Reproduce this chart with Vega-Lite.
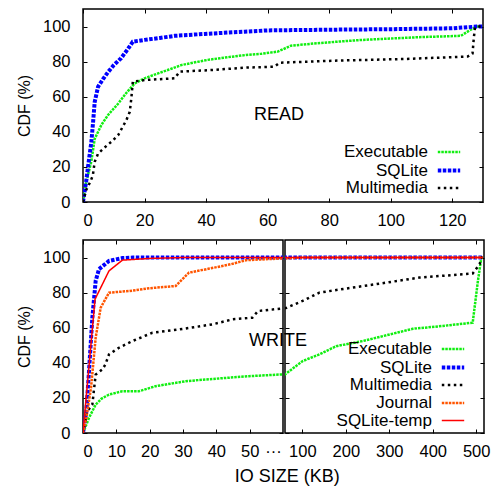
{
  "$schema": "https://vega.github.io/schema/vega-lite/v6.json",
  "padding": {"left": 15, "top": 7, "right": 5, "bottom": 3},
  "config": {
    "font": "Liberation Sans",
    "view": {"stroke": "black", "strokeWidth": 1.5},
    "axis": {"grid": false, "domain": false, "tickColor": "black", "tickSize": -4, "tickWidth": 1, "labelColor": "black", "labelFontSize": 16.5, "titleColor": "black", "titleFontWeight": "normal", "labelFont": "Liberation Sans", "titleFont": "Liberation Sans", "minExtent": 0},
    "axisX": {"labelPadding": 14, "minExtent": 0},
    "axisY": {"labelPadding": 17, "minExtent": 0},
    "legend": {"orient": "none", "title": null, "labelAlign": "right", "labelOffset": -31, "symbolType": "M-1.4,0H1.4", "symbolSize": 256, "labelFontSize": 17, "labelColor": "black", "padding": 0, "labelFont": "Liberation Sans", "symbolFillColor": "transparent"}
  },
  "datasets": {
    "read": [
      {"type": "Executable", "size": 0, "cdf": 0}, {"type": "Executable", "size": 1, "cdf": 11}, {"type": "Executable", "size": 2.7, "cdf": 23}, {"type": "Executable", "size": 3.8, "cdf": 36}, {"type": "Executable", "size": 6, "cdf": 44}, {"type": "Executable", "size": 8.1, "cdf": 49.5}, {"type": "Executable", "size": 11.4, "cdf": 56}, {"type": "Executable", "size": 14, "cdf": 62}, {"type": "Executable", "size": 16.8, "cdf": 67.6}, {"type": "Executable", "size": 20, "cdf": 70.5}, {"type": "Executable", "size": 24.4, "cdf": 73.3}, {"type": "Executable", "size": 28, "cdf": 75.5}, {"type": "Executable", "size": 31.9, "cdf": 78}, {"type": "Executable", "size": 36, "cdf": 79.5}, {"type": "Executable", "size": 40.6, "cdf": 81}, {"type": "Executable", "size": 46, "cdf": 82.3}, {"type": "Executable", "size": 53, "cdf": 83.8}, {"type": "Executable", "size": 58, "cdf": 84.5}, {"type": "Executable", "size": 63.3, "cdf": 85.7}, {"type": "Executable", "size": 67.6, "cdf": 89.1}, {"type": "Executable", "size": 75, "cdf": 90.3}, {"type": "Executable", "size": 82.8, "cdf": 91.4}, {"type": "Executable", "size": 90, "cdf": 92.3}, {"type": "Executable", "size": 99, "cdf": 93.1}, {"type": "Executable", "size": 110, "cdf": 94}, {"type": "Executable", "size": 122.8, "cdf": 94.7}, {"type": "Executable", "size": 125, "cdf": 97.1}, {"type": "Executable", "size": 127.2, "cdf": 99.4}, {"type": "Executable", "size": 128, "cdf": 100}, {"type": "Executable", "size": 130, "cdf": 100},
      {"type": "SQLite", "size": 0, "cdf": 0}, {"type": "SQLite", "size": 1, "cdf": 11.4}, {"type": "SQLite", "size": 2, "cdf": 25}, {"type": "SQLite", "size": 2.7, "cdf": 34}, {"type": "SQLite", "size": 3.3, "cdf": 46}, {"type": "SQLite", "size": 3.8, "cdf": 57}, {"type": "SQLite", "size": 4.9, "cdf": 65.7}, {"type": "SQLite", "size": 6.5, "cdf": 70}, {"type": "SQLite", "size": 8.1, "cdf": 74}, {"type": "SQLite", "size": 10, "cdf": 78}, {"type": "SQLite", "size": 12.4, "cdf": 82}, {"type": "SQLite", "size": 14.5, "cdf": 87}, {"type": "SQLite", "size": 16.2, "cdf": 91.4}, {"type": "SQLite", "size": 20, "cdf": 92.4}, {"type": "SQLite", "size": 25, "cdf": 93.5}, {"type": "SQLite", "size": 29.8, "cdf": 94.7}, {"type": "SQLite", "size": 39.5, "cdf": 95.8}, {"type": "SQLite", "size": 52.5, "cdf": 97.1}, {"type": "SQLite", "size": 60, "cdf": 97.8}, {"type": "SQLite", "size": 80, "cdf": 98.2}, {"type": "SQLite", "size": 100, "cdf": 98.5}, {"type": "SQLite", "size": 120, "cdf": 99}, {"type": "SQLite", "size": 128, "cdf": 100}, {"type": "SQLite", "size": 130, "cdf": 100},
      {"type": "Multimedia", "size": 0, "cdf": 0}, {"type": "Multimedia", "size": 1, "cdf": 6.7}, {"type": "Multimedia", "size": 2.5, "cdf": 12}, {"type": "Multimedia", "size": 3.2, "cdf": 15.2}, {"type": "Multimedia", "size": 3.8, "cdf": 22.9}, {"type": "Multimedia", "size": 4.9, "cdf": 27.6}, {"type": "Multimedia", "size": 7, "cdf": 31}, {"type": "Multimedia", "size": 9.2, "cdf": 34.3}, {"type": "Multimedia", "size": 11.4, "cdf": 38}, {"type": "Multimedia", "size": 14.1, "cdf": 46.7}, {"type": "Multimedia", "size": 15.2, "cdf": 51.4}, {"type": "Multimedia", "size": 15.7, "cdf": 59}, {"type": "Multimedia", "size": 16.2, "cdf": 68.6}, {"type": "Multimedia", "size": 20, "cdf": 69.5}, {"type": "Multimedia", "size": 29.8, "cdf": 70.5}, {"type": "Multimedia", "size": 31.4, "cdf": 74.3}, {"type": "Multimedia", "size": 41.7, "cdf": 75.2}, {"type": "Multimedia", "size": 53, "cdf": 76.6}, {"type": "Multimedia", "size": 62.2, "cdf": 77.1}, {"type": "Multimedia", "size": 63.9, "cdf": 79.4}, {"type": "Multimedia", "size": 82.8, "cdf": 80.6}, {"type": "Multimedia", "size": 104.4, "cdf": 81.5}, {"type": "Multimedia", "size": 125, "cdf": 82.9}, {"type": "Multimedia", "size": 126.6, "cdf": 84.6}, {"type": "Multimedia", "size": 127, "cdf": 93.3}, {"type": "Multimedia", "size": 127.4, "cdf": 99.4}, {"type": "Multimedia", "size": 128, "cdf": 100}, {"type": "Multimedia", "size": 130, "cdf": 100}
    ],
    "write": [
      {"type": "Executable", "size": 0, "cdf": 0}, {"type": "Executable", "size": 1.8, "cdf": 8.6}, {"type": "Executable", "size": 3.8, "cdf": 16.2}, {"type": "Executable", "size": 5.5, "cdf": 19.5}, {"type": "Executable", "size": 7.8, "cdf": 21.9}, {"type": "Executable", "size": 11.8, "cdf": 23.8}, {"type": "Executable", "size": 16.8, "cdf": 23.8}, {"type": "Executable", "size": 21.8, "cdf": 26.7}, {"type": "Executable", "size": 30.8, "cdf": 29.5}, {"type": "Executable", "size": 36.8, "cdf": 30.5}, {"type": "Executable", "size": 49.8, "cdf": 32.4}, {"type": "Executable", "size": 60, "cdf": 33.4}, {"type": "Executable", "size": 100.7, "cdf": 41}, {"type": "Executable", "size": 139, "cdf": 44.8}, {"type": "Executable", "size": 178, "cdf": 49.5}, {"type": "Executable", "size": 239, "cdf": 52.4}, {"type": "Executable", "size": 270, "cdf": 54.3}, {"type": "Executable", "size": 354, "cdf": 59.4}, {"type": "Executable", "size": 423, "cdf": 61}, {"type": "Executable", "size": 492, "cdf": 62.9}, {"type": "Executable", "size": 504, "cdf": 86.7}, {"type": "Executable", "size": 512, "cdf": 100}, {"type": "Executable", "size": 515, "cdf": 100},
      {"type": "SQLite", "size": 0, "cdf": 0}, {"type": "SQLite", "size": 1, "cdf": 12.4}, {"type": "SQLite", "size": 1.8, "cdf": 35.3}, {"type": "SQLite", "size": 2.8, "cdf": 65.7}, {"type": "SQLite", "size": 3.8, "cdf": 86.7}, {"type": "SQLite", "size": 4.8, "cdf": 93.4}, {"type": "SQLite", "size": 7.8, "cdf": 98.1}, {"type": "SQLite", "size": 11.8, "cdf": 99.7}, {"type": "SQLite", "size": 15, "cdf": 100}, {"type": "SQLite", "size": 515, "cdf": 100},
      {"type": "Multimedia", "size": 0, "cdf": 0}, {"type": "Multimedia", "size": 1.3, "cdf": 12.4}, {"type": "Multimedia", "size": 2.8, "cdf": 16.2}, {"type": "Multimedia", "size": 3.8, "cdf": 33.3}, {"type": "Multimedia", "size": 5.8, "cdf": 36.2}, {"type": "Multimedia", "size": 6.7, "cdf": 39}, {"type": "Multimedia", "size": 7.8, "cdf": 44.8}, {"type": "Multimedia", "size": 10.8, "cdf": 48.6}, {"type": "Multimedia", "size": 14.8, "cdf": 52.4}, {"type": "Multimedia", "size": 20.8, "cdf": 57.1}, {"type": "Multimedia", "size": 28.8, "cdf": 59}, {"type": "Multimedia", "size": 38.8, "cdf": 61.9}, {"type": "Multimedia", "size": 44.9, "cdf": 64.8}, {"type": "Multimedia", "size": 50.8, "cdf": 65.7}, {"type": "Multimedia", "size": 52.5, "cdf": 69.5}, {"type": "Multimedia", "size": 60, "cdf": 71}, {"type": "Multimedia", "size": 100.7, "cdf": 75.3}, {"type": "Multimedia", "size": 139, "cdf": 80}, {"type": "Multimedia", "size": 216, "cdf": 82.9}, {"type": "Multimedia", "size": 293, "cdf": 85.7}, {"type": "Multimedia", "size": 370, "cdf": 88.6}, {"type": "Multimedia", "size": 492, "cdf": 90.9}, {"type": "Multimedia", "size": 508, "cdf": 96.2}, {"type": "Multimedia", "size": 512, "cdf": 100}, {"type": "Multimedia", "size": 515, "cdf": 100},
      {"type": "Journal", "size": 0, "cdf": 0}, {"type": "Journal", "size": 1, "cdf": 8.6}, {"type": "Journal", "size": 2.4, "cdf": 25.7}, {"type": "Journal", "size": 3.8, "cdf": 54.3}, {"type": "Journal", "size": 5.3, "cdf": 71.4}, {"type": "Journal", "size": 7.8, "cdf": 80}, {"type": "Journal", "size": 13.8, "cdf": 80.9}, {"type": "Journal", "size": 19.9, "cdf": 82.5}, {"type": "Journal", "size": 27.8, "cdf": 83.8}, {"type": "Journal", "size": 31.8, "cdf": 91.4}, {"type": "Journal", "size": 37.9, "cdf": 93.7}, {"type": "Journal", "size": 44.4, "cdf": 96.2}, {"type": "Journal", "size": 48.9, "cdf": 98.5}, {"type": "Journal", "size": 60, "cdf": 99.5}, {"type": "Journal", "size": 100, "cdf": 100}, {"type": "Journal", "size": 515, "cdf": 100},
      {"type": "SQLite-temp", "size": 0, "cdf": 0}, {"type": "SQLite-temp", "size": 3.6, "cdf": 76.2}, {"type": "SQLite-temp", "size": 7.8, "cdf": 92.4}, {"type": "SQLite-temp", "size": 11.8, "cdf": 98.5}, {"type": "SQLite-temp", "size": 19.9, "cdf": 99.5}, {"type": "SQLite-temp", "size": 30, "cdf": 100}, {"type": "SQLite-temp", "size": 515, "cdf": 100}
    ]
  },
  "spacing": 8,
  "resolve": {
    "scale": {"color": "independent", "strokeDash": "independent", "strokeWidth": "independent"},
    "legend": {"color": "independent", "strokeDash": "independent", "strokeWidth": "independent"}
  },
  "vconcat": [
    {
      "width": 400,
      "height": 193,
      "resolve": {"axis": {"x": "independent", "y": "independent"}},
      "layer": [
        {
          "data": {"name": "read"},
          "mark": {"type": "line", "clip": true},
          "encoding": {
            "x": {"field": "size", "type": "quantitative", "scale": {"domain": [0, 130], "nice": false}, "axis": {"values": [0, 20, 40, 60, 80, 100, 120], "title": null, "minExtent": 0}},
            "y": {"field": "cdf", "type": "quantitative", "scale": {"domain": [0, 110], "nice": false}, "axis": {"values": [0, 20, 40, 60, 80, 100], "title": "CDF (%)", "titleFontSize": 16, "titlePadding": 10, "minExtent": 0}},
            "color": {"field": "type", "type": "nominal", "scale": {"domain": ["Executable", "SQLite", "Multimedia"], "range": ["#11ee11", "#0000ff", "#000000"]}, "legend": {"legendX": 356, "legendY": 133.5, "rowPadding": 0}},
            "strokeDash": {"field": "type", "type": "nominal", "scale": {"domain": ["Executable", "SQLite", "Multimedia"], "range": [[2.5, 1], [3.5, 1.5], [2.5, 3.5]]}},
            "strokeWidth": {"field": "type", "type": "nominal", "scale": {"type": "ordinal", "domain": ["Executable", "SQLite", "Multimedia"], "range": [2.5, 4, 2.5]}}
          }
        },
        {
          "data": {"values": [{}]},
          "mark": {"type": "text", "text": "READ", "fontSize": 18, "align": "left", "baseline": "middle", "color": "black"},
          "encoding": {
            "x": {"datum": 55.6, "type": "quantitative", "axis": {"orient": "top", "labels": false, "values": [0, 20, 40, 60, 80, 100, 120], "title": null, "minExtent": 0}},
            "y": {"datum": 49.7, "type": "quantitative", "axis": {"orient": "right", "labels": false, "values": [0, 20, 40, 60, 80, 100], "title": null, "minExtent": 0}}
          }
        }
      ]
    },
    {
      "spacing": 2,
      "bounds": "flush",
      "title": {"text": "IO SIZE (KB)", "orient": "bottom", "anchor": "middle", "fontSize": 18, "fontWeight": "normal", "color": "black", "offset": 8, "dx": 34},
      "resolve": {"legend": {"color": "independent", "strokeDash": "independent", "strokeWidth": "independent"}},
      "hconcat": [
        {
          "width": 200,
          "height": 193,
          "resolve": {"axis": {"x": "independent", "y": "independent"}},
          "layer": [
            {
              "data": {"name": "write"},
              "mark": {"type": "line", "clip": true},
              "encoding": {
                "x": {"field": "size", "type": "quantitative", "scale": {"domain": [0, 60], "nice": false}, "axis": {"values": [0, 10, 20, 30, 40, 50, 57], "title": null, "minExtent": 0, "labelExpr": "datum.value == 57 ? '···' : datum.label", "tickOpacity": {"condition": {"test": "datum.value == 57", "value": 0}, "value": 1}}},
                "y": {"field": "cdf", "type": "quantitative", "scale": {"domain": [0, 110], "nice": false}, "axis": {"values": [0, 20, 40, 60, 80, 100], "title": "CDF (%)", "titleFontSize": 16, "titlePadding": 10, "minExtent": 0}},
                "color": {"field": "type", "type": "nominal", "scale": {"domain": ["Executable", "SQLite", "Multimedia", "Journal", "SQLite-temp"], "range": ["#11ee11", "#0000ff", "#000000", "#ff5500", "#ff0000"]}, "legend": null},
                "strokeDash": {"field": "type", "type": "nominal", "scale": {"domain": ["Executable", "SQLite", "Multimedia", "Journal", "SQLite-temp"], "range": [[2.5, 1], [3.5, 1.5], [2.5, 3.5], [2.5, 1], [1, 0]]}, "legend": null},
                "strokeWidth": {"field": "type", "type": "nominal", "scale": {"type": "ordinal", "domain": ["Executable", "SQLite", "Multimedia", "Journal", "SQLite-temp"], "range": [2.5, 4, 2.5, 2.5, 1.5]}, "legend": null}
              }
            },
            {
              "data": {"values": [{}]},
              "mark": {"type": "text", "text": "WRITE", "fontSize": 18, "align": "left", "baseline": "middle", "color": "black"},
              "encoding": {
                "x": {"datum": 49.8, "type": "quantitative", "axis": {"orient": "top", "labels": false, "values": [0, 10, 20, 30, 40, 50], "title": null, "minExtent": 0}},
                "y": {"datum": 52.4, "type": "quantitative", "axis": {"orient": "right", "labels": false, "values": [0, 20, 40, 60, 80, 100], "title": null, "minExtent": 0}}
              }
            }
          ]
        },
        {
          "width": 199,
          "height": 193,
          "resolve": {"axis": {"x": "independent", "y": "independent"}},
          "layer": [
            {
              "data": {"name": "write"},
              "mark": {"type": "line", "clip": true},
              "encoding": {
                "x": {"field": "size", "type": "quantitative", "scale": {"domain": [60, 518], "nice": false}, "axis": {"values": [100, 200, 300, 400, 500], "title": null, "minExtent": 0}},
                "y": {"field": "cdf", "type": "quantitative", "scale": {"domain": [0, 110], "nice": false}, "axis": {"values": [0, 20, 40, 60, 80, 100], "title": null, "labels": false, "minExtent": 0}},
                "color": {"field": "type", "type": "nominal", "scale": {"domain": ["Executable", "SQLite", "Multimedia", "Journal", "SQLite-temp"], "range": ["#11ee11", "#0000ff", "#000000", "#ff5500", "#ff0000"]}, "legend": {"legendX": 158, "legendY": 99.5, "rowPadding": -1}},
                "strokeDash": {"field": "type", "type": "nominal", "scale": {"domain": ["Executable", "SQLite", "Multimedia", "Journal", "SQLite-temp"], "range": [[2.5, 1], [3.5, 1.5], [2.5, 3.5], [2.5, 1], [1, 0]]}},
                "strokeWidth": {"field": "type", "type": "nominal", "scale": {"type": "ordinal", "domain": ["Executable", "SQLite", "Multimedia", "Journal", "SQLite-temp"], "range": [2.5, 4, 2.5, 2.5, 1.5]}}
              }
            },
            {
              "data": {"values": [{}]},
              "mark": {"type": "text", "text": "", "opacity": 0},
              "encoding": {
                "x": {"datum": 300, "type": "quantitative", "axis": {"orient": "top", "labels": false, "values": [100, 200, 300, 400, 500], "title": null, "minExtent": 0}},
                "y": {"datum": 50, "type": "quantitative", "axis": {"orient": "right", "labels": false, "values": [0, 20, 40, 60, 80, 100], "title": null, "minExtent": 0}}
              }
            }
          ]
        }
      ]
    }
  ]
}
